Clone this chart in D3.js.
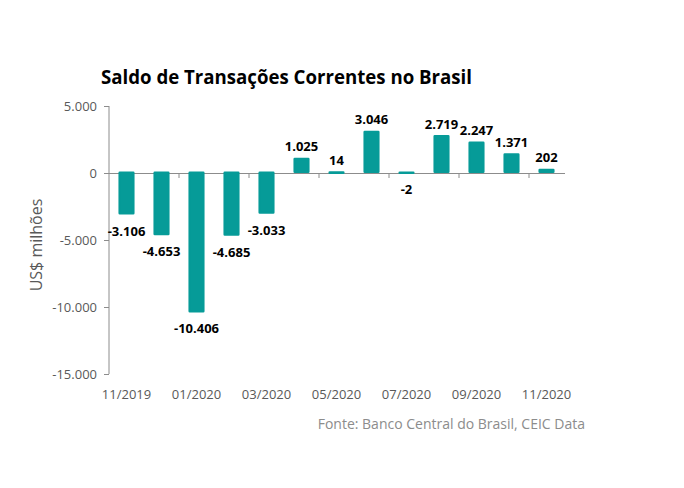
<!DOCTYPE html>
<html><head><meta charset="utf-8">
<script src="https://cdn.jsdelivr.net/npm/d3@7"></script>
<style>
html,body{margin:0;padding:0;background:#fff;}
text{font-family:"Open Sans",sans-serif;}
</style></head>
<body><svg id="c" width="684" height="488"></svg>
<script>
const categories = ["11/2019","12/2019","01/2020","02/2020","03/2020","04/2020","05/2020","06/2020","07/2020","08/2020","09/2020","10/2020","11/2020"];
const values = [-3106,-4653,-10406,-4685,-3033,1025,14,3046,-2,2719,2247,1371,202];
const labels = ["-3.106","-4.653","-10.406","-4.685","-3.033","1.025","14","3.046","-2","2.719","2.247","1.371","202"];
const yTicks = [5000,0,-5000,-10000,-15000];
const yTickLabels = ["5.000","0","-5.000","-10.000","-15.000"];
const title = "Saldo de Transações Correntes no Brasil";
const yTitle = "US$ milhões";
const source = "Fonte: Banco Central do Brasil, CEIC Data";

const svg = d3.select("#c");
const color = "#069b98";
const gray = "#595959";
const axisColor = "#8c8c8c";

const x = d3.scaleBand().domain(categories).range([109, 564]).paddingInner(0.54).paddingOuter(0.27);
const y = d3.scaleLinear().domain([-15000, 5000]).range([374, 106]);

svg.append("text").attr("x", 101).attr("y", 84).attr("font-size", 19).attr("font-weight", "bold").attr("fill", "#000")
  .attr("textLength", 371).attr("lengthAdjust", "spacingAndGlyphs").text(title);

// y axis
const yAxis = svg.append("g");
yAxis.append("line").attr("x1", 109).attr("x2", 109).attr("y1", y(5000)).attr("y2", y(-15000)).attr("stroke", axisColor);
yAxis.selectAll(".yt").data(yTicks).join("line").attr("x1", 104).attr("x2", 109)
  .attr("y1", d => y(d) + 0.5).attr("y2", d => y(d) + 0.5).attr("stroke", axisColor);
yAxis.selectAll(".yl").data(yTicks).join("text").attr("x", 97).attr("y", d => y(d) + 5)
  .attr("text-anchor", "end").attr("font-size", 13).attr("fill", gray).text((d, i) => yTickLabels[i]);

svg.append("text").attr("transform", `translate(42,${y(-5000)+5}) rotate(-90)`).attr("text-anchor", "middle")
  .attr("font-size", 16).attr("fill", gray).text(yTitle);

// zero line
svg.append("line").attr("x1", 109).attr("x2", 565).attr("y1", y(0) + 0.5).attr("y2", y(0) + 0.5).attr("stroke", axisColor);
// x ticks every 2 categories at boundaries
const step = x.step();
const tickIdx = [2,4,6,8,10,12];
svg.selectAll(".xt").data(tickIdx).join("line")
  .attr("x1", i => 109 + i * step).attr("x2", i => 109 + i * step)
  .attr("y1", y(0)).attr("y2", y(0) + 5).attr("stroke", axisColor);

// bars
const sw = 2.5;
svg.selectAll(".bar").data(values).join("rect")
  .attr("x", (d, i) => x(categories[i]) + sw / 2)
  .attr("width", x.bandwidth() - sw)
  .attr("y", d => Math.min(y(d), y(0)) + sw / 2 - 1.5)
  .attr("height", d => Math.max(0.1, Math.abs(y(d) - y(0)) - sw + 1.5))
  .attr("fill", color).attr("stroke", color).attr("stroke-width", sw).attr("stroke-linejoin", "round");

// value labels
svg.selectAll(".vl").data(values).join("text")
  .attr("x", (d, i) => x(categories[i]) + x.bandwidth() / 2)
  .attr("y", d => d >= 0 ? y(d) - 8 : y(d) + 21)
  .attr("text-anchor", "middle").attr("font-size", 13).attr("font-weight", "bold").attr("fill", "#000")
  .text((d, i) => labels[i]);

// x labels
svg.selectAll(".xl").data(categories.filter((c, i) => i % 2 === 0)).join("text")
  .attr("x", d => x(d) + x.bandwidth() / 2).attr("y", 399)
  .attr("text-anchor", "middle").attr("font-size", 13).attr("fill", gray).text(d => d);

svg.append("text").attr("x", 585).attr("y", 429).attr("text-anchor", "end").attr("font-size", 14)
  .attr("fill", "#8c8c8c").text(source);
</script></body></html>
